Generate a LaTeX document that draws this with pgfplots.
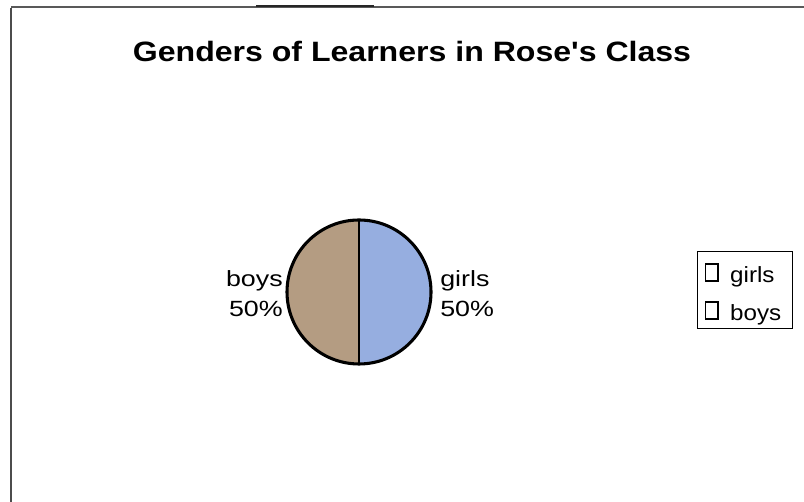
\documentclass[border=0pt]{standalone}
\usepackage{pgfplots}
\pgfplotsset{compat=1.18}
\usepackage{pgfplotstable}
\usepackage{fontspec}
\setmainfont{Liberation Sans}[Ligatures=TeXOff]
\definecolor{girlblue}{RGB}{150,174,224}
\definecolor{boybrown}{RGB}{180,156,130}
\pgfplotstableread{
label value
girls 50
boys 50
}\piedata
\begin{document}
\begin{tikzpicture}
\pgfplotstablegetelem{0}{value}\of\piedata \let\vg\pgfplotsretval
\pgfplotstablegetelem{1}{value}\of\piedata \let\vb\pgfplotsretval
\pgfmathsetmacro{\tot}{\vg+\vb}
\pgfmathsetmacro{\ag}{90-360*(\vg/\tot)}
\pgfmathsetmacro{\ab}{\ag-360*(\vb/\tot)}
\begin{axis}[
  scale only axis, width=603pt, height=376.5pt,
  xmin=0, xmax=804, ymin=0, ymax=502,
  axis lines=none, clip=false,
  legend style={at={(axis cs:697,251)}, anchor=north west, draw=black, line width=0.8pt,
    font=\fontsize{16.5pt}{19pt}\selectfont, inner xsep=4pt, inner ysep=2pt,
    row sep=3.5pt, nodes={inner sep=0pt, text height=21pt, text depth=4pt}},
  legend cell align=left,
  legend image code/.code={\draw[black, line width=1.1pt, fill=white] (2pt,-7.5pt) rectangle (11.5pt,5pt); \path[draw=none,fill=none] (0pt,0pt) -- (20.5pt,0pt);},
]
% frame
\draw[black!70, line width=1.2pt] (axis cs:11,0) -- (axis cs:11,494);
\draw[black!65, line width=1.1pt] (axis cs:11,495) -- (axis cs:804,495);
\draw[black!85, line width=2pt] (axis cs:256,496) -- (axis cs:374,496);
% title
\node[anchor=base, font=\fontsize{21pt}{25pt}\selectfont\bfseries] at (axis cs:412,440) {\scalebox{1.145}[1]{Genders of Learners in Rose's Class}};
% pie
\fill[girlblue] (axis cs:359,210) -- ++(90:54pt) arc[start angle=90, end angle=\ag, radius=54pt] -- cycle;
\fill[boybrown] (axis cs:359,210) -- ++(\ag:54pt) arc[start angle=\ag, end angle=\ab, radius=54pt] -- cycle;
\draw[black, line width=1.6pt] (axis cs:359,210) -- ++(90:54pt);
\draw[black, line width=1.6pt] (axis cs:359,210) -- ++(\ag:54pt);
\draw[black, line width=2.3pt] (axis cs:359,210) circle[radius=54pt];
% labels
\node[anchor=east, align=right, font=\fontsize{16.5pt}{22.5pt}\selectfont, inner sep=0pt] at (axis cs:283,208) {\scalebox{1.22}[1]{boys}\\\scalebox{1.22}[1]{\vb\%}};
\node[anchor=west, align=left, font=\fontsize{16.5pt}{22.5pt}\selectfont, inner sep=0pt] at (axis cs:440,208) {\scalebox{1.22}[1]{girls}\\\scalebox{1.22}[1]{\vg\%}};
\addlegendimage{}
\addlegendentry{\makebox[42.5pt][l]{\scalebox{1.1}[1]{girls}}}
\addlegendimage{}
\addlegendentry{\makebox[42.5pt][l]{\scalebox{1.1}[1]{boys}}}
\end{axis}
\pgfresetboundingbox
\path[use as bounding box] (current axis.south west) rectangle (current axis.north east);
\end{tikzpicture}
\end{document}
